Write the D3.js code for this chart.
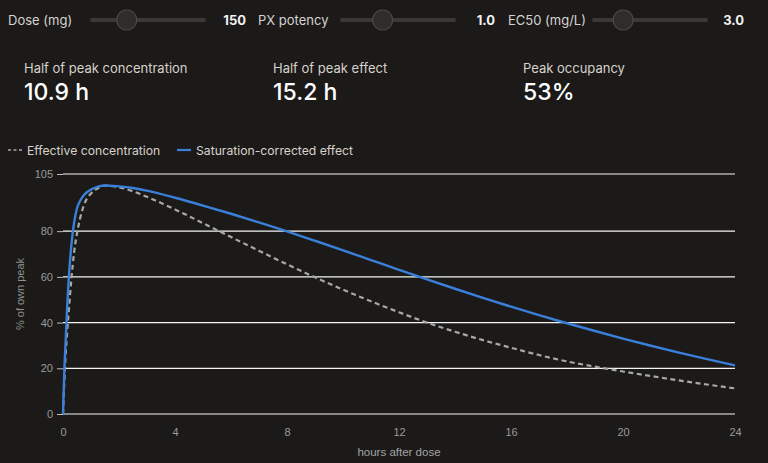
<!DOCTYPE html>
<html>
<head>
<meta charset="utf-8">
<script src="https://cdn.jsdelivr.net/npm/d3@7"></script>
<style>
  html, body { margin: 0; padding: 0; background: #1b1a19; }
  svg { display: block; }
  .ui { font-family: Inter, "Noto Sans", sans-serif; }
  .axis text { font-family: "Liberation Sans", Arial, sans-serif; font-size: 11px; fill: #9a9a9a; }
</style>
</head>
<body>
<svg id="plot" width="768" height="463"></svg>
<script>
// hours after dose (shared by both series)
const hours = [0, 0.05, 0.1, 0.15, 0.2, 0.3, 0.4, 0.5, 0.6, 0.75, 1, 1.25, 1.5, 2, 2.5, 3,
  4, 5, 6, 7, 8, 9, 10, 11, 12, 13, 14, 15, 16, 17, 18, 19, 20, 21, 22, 23, 24]
// % of own peak
const concentrationPct = [0, 15, 27, 36, 44, 59, 71, 79, 85, 91.5, 96.5, 98.8, 99.9, 99.2, 97.4, 95.0,
  89.5, 83.5, 77.4, 71.4, 65.5, 59.8, 54.4, 49.3, 44.5, 40.0, 36.0, 32.3, 29.0, 25.8, 23.0, 20.7, 18.6, 16.6, 14.7, 12.9, 11.2]
const effectPct = [0, 20, 33, 47, 58, 74, 84, 90, 93, 95.8, 98.2, 99.5, 100, 99.6, 98.9, 97.7,
  94.6, 91.2, 87.6, 83.8, 79.9, 75.8, 71.6, 67.35, 63.1, 58.9, 54.8, 50.8, 46.95, 43.25, 39.7, 36.3, 33.0, 29.85, 26.85, 24.0, 21.3]

const xTicks = [0, 4, 8, 12, 16, 20, 24]
const yTicks = [0, 20, 40, 60, 80, 105]

// sliders: label, value text, min, max, current
const sliderLabels = ['Dose (mg)', 'PX potency', 'EC50 (mg/L)']
const sliderValues = [150, 1.0, 3.0]
const sliderText = ['150', '1.0', '3.0']
const sliderMin = [10, 0.5, 0.5]
const sliderMax = [530, 2.0, 12.5]

// summary figures
const statLabels = ['Half of peak concentration', 'Half of peak effect', 'Peak occupancy']
const statValues = ['10.9 h', '15.2 h', '53%']

const svg = d3.select('#plot')

// ---- slider row
const sliderX = [8, 258, 508]       // label start
const trackX = [92, 342, 594]        // track start
const trackW = 112
const valueRight = [246, 495, 744]
sliderLabels.forEach((lab, i) => {
  const g = svg.append('g').attr('class', 'ui')
  g.append('text').attr('x', sliderX[i]).attr('y', 25)
    .attr('font-size', 13).attr('fill', '#d6d3cf').text(lab)
  g.append('line').attr('x1', trackX[i]).attr('x2', trackX[i] + trackW)
    .attr('y1', 20).attr('y2', 20).attr('stroke', '#3a3938').attr('stroke-width', 4).attr('stroke-linecap', 'round')
  const s = d3.scaleLinear().domain([sliderMin[i], sliderMax[i]]).range([trackX[i] + 10, trackX[i] + trackW - 10])
  g.append('circle').attr('cx', s(sliderValues[i])).attr('cy', 20).attr('r', 10)
    .attr('fill', '#2e2d2c').attr('stroke', '#4a4948').attr('stroke-width', 1.2)
  g.append('text').attr('x', valueRight[i]).attr('y', 25).attr('text-anchor', 'end')
    .attr('font-size', 13).attr('font-weight', 700).attr('fill', '#f2f2f2').text(sliderText[i])
})

// ---- stats
const statX = [24, 273, 523]
statLabels.forEach((lab, i) => {
  const g = svg.append('g').attr('class', 'ui')
  g.append('text').attr('x', statX[i]).attr('y', 73).attr('font-size', 13).attr('fill', '#d8d2ca').text(lab)
  g.append('text').attr('x', statX[i]).attr('y', 100).attr('font-size', 23).attr('font-weight', 500)
    .attr('fill', '#ffffff').text(statValues[i])
})

// ---- legend
const legend = svg.append('g').attr('class', 'ui')
legend.append('line').attr('x1', 8).attr('x2', 22).attr('y1', 150).attr('y2', 150)
  .attr('stroke', '#a9a9a9').attr('stroke-width', 1.6).attr('stroke-dasharray', '3,2.5')
legend.append('text').attr('x', 27).attr('y', 154.5).attr('font-size', 12.2).attr('fill', '#d8d2ca').text('Effective concentration')
legend.append('line').attr('x1', 177).attr('x2', 191).attr('y1', 150).attr('y2', 150)
  .attr('stroke', '#3a7fd9').attr('stroke-width', 2.2)
legend.append('text').attr('x', 196).attr('y', 154.5).attr('font-size', 12.2).attr('fill', '#d8d2ca').text('Saturation-corrected effect')

// ---- chart
const m = {left: 63, right: 735, top: 174, bottom: 414}
const x = d3.scaleLinear().domain([0, 24]).range([m.left, m.right])
const y = d3.scaleLinear().domain([0, 105]).range([m.bottom, m.top])

// grid
svg.append('g').selectAll('line').data(yTicks).enter().append('line')
  .attr('x1', m.left).attr('x2', m.right)
  .attr('y1', d => y(d)).attr('y2', d => y(d))
  .attr('stroke', '#f4f4f4').attr('stroke-width', 1.2)

const yAxis = svg.append('g').attr('class', 'axis')
  .attr('transform', `translate(${m.left},0)`)
  .call(d3.axisLeft(y).tickValues(yTicks).tickSize(6).tickPadding(4))
yAxis.select('.domain').remove()
yAxis.selectAll('.tick line').attr('stroke', '#bdbdbd')

const xAxis = svg.append('g').attr('class', 'axis')
  .attr('transform', `translate(0,${m.bottom})`)
  .call(d3.axisBottom(x).tickValues(xTicks).tickSize(0).tickPadding(14))
xAxis.select('.domain').remove()

svg.append('text').attr('class', 'axis-title')
  .attr('x', (m.left + m.right) / 2).attr('y', 456).attr('text-anchor', 'middle')
  .attr('font-family', '"Liberation Sans", Arial, sans-serif').attr('font-size', 11.5).attr('fill', '#a3a3a3')
  .text('hours after dose')
svg.append('text')
  .attr('transform', `translate(24,${(m.top + m.bottom) / 2}) rotate(-90)`)
  .attr('text-anchor', 'middle')
  .attr('font-family', '"Liberation Sans", Arial, sans-serif').attr('font-size', 11).attr('fill', '#8f8f8f')
  .text('% of own peak')

// lines
const rows = hours.map((h, i) => ({h, c: concentrationPct[i], e: effectPct[i]}))
const lineC = d3.line().x(d => x(d.h)).y(d => y(d.c)).curve(d3.curveMonotoneX)
const lineE = d3.line().x(d => x(d.h)).y(d => y(d.e)).curve(d3.curveMonotoneX)

svg.append('path').datum(rows).attr('d', lineC)
  .attr('fill', 'none').attr('stroke', '#a8a8a8').attr('stroke-width', 2.2).attr('stroke-dasharray', '5,3.5')
svg.append('path').datum(rows).attr('d', lineE)
  .attr('fill', 'none').attr('stroke', '#3a7fd9').attr('stroke-width', 2.4)
</script>
</body>
</html>
